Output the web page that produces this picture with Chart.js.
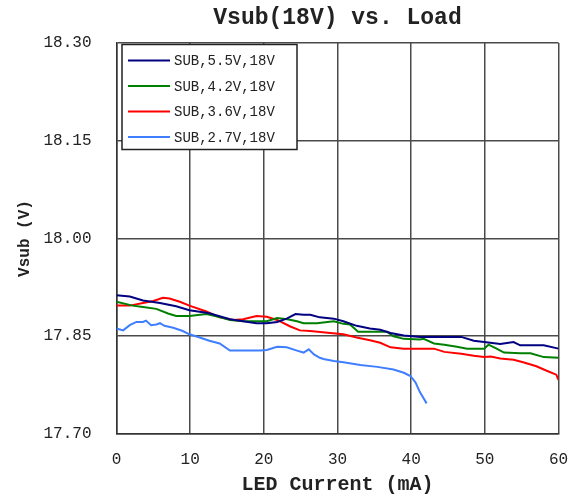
<!DOCTYPE html>
<html>
<head>
<meta charset="utf-8">
<script src="https://cdn.jsdelivr.net/npm/chart.js@4/dist/chart.umd.min.js"></script>
<style>
  html, body { margin: 0; padding: 0; background: #ffffff; }
  #wrap { width: 572px; height: 497px; }
</style>
</head>
<body>
<div id="wrap"><canvas id="vsubChart" width="572" height="497"></canvas></div>
<script>
// Series labels and colors
const seriesLabels = ['SUB,5.5V,18V', 'SUB,4.2V,18V', 'SUB,3.6V,18V', 'SUB,2.7V,18V'];
const seriesColors = ['#000080', '#008000', '#ff0000', '#3f7fff'];

// Tick values
const xTicks = [0, 10, 20, 30, 40, 50, 60];
const yTicks = [17.70, 17.85, 18.00, 18.15, 18.30];

// LED current (mA) and Vsub (V)
const current55 = [0, 1.8, 3.6, 5.9, 8.1, 9.9, 12.2, 12.7, 15.4, 17.2, 19.0, 20.4, 21.8, 23.1, 24.3, 25.4, 26.3, 27.6, 29.5, 30.8, 32.6, 34.4, 35.8, 37.2, 39.0, 41.2, 44.5, 46.8, 48.5, 49.9, 52.1, 53.9, 54.8, 56.2, 58.0, 60];
const vsub55 = [17.913, 17.911, 17.905, 17.901, 17.896, 17.890, 17.886, 17.885, 17.876, 17.873, 17.870, 17.870, 17.872, 17.877, 17.884, 17.883, 17.883, 17.879, 17.877, 17.873, 17.866, 17.862, 17.860, 17.855, 17.851, 17.849, 17.849, 17.849, 17.843, 17.841, 17.838, 17.841, 17.836, 17.836, 17.836, 17.831];

const current42 = [0, 2.2, 3.6, 5.4, 7.0, 8.1, 9.9, 12.2, 14.1, 15.4, 17.2, 19.0, 20.4, 21.8, 23.2, 24.5, 25.4, 27.2, 29.5, 30.8, 31.7, 32.8, 34.4, 36.7, 37.6, 39.0, 41.2, 41.7, 43.1, 44.5, 46.2, 47.6, 49.9, 50.5, 51.6, 52.6, 54.8, 56.2, 58.0, 60];
const vsub42 = [17.903, 17.897, 17.895, 17.892, 17.885, 17.881, 17.881, 17.884, 17.879, 17.875, 17.873, 17.873, 17.873, 17.878, 17.876, 17.873, 17.870, 17.870, 17.873, 17.869, 17.868, 17.857, 17.857, 17.857, 17.850, 17.846, 17.845, 17.846, 17.839, 17.837, 17.834, 17.831, 17.831, 17.837, 17.831, 17.825, 17.824, 17.824, 17.818, 17.817];

const current36 = [0, 1.8, 3.6, 5.0, 6.3, 7.2, 8.6, 9.9, 12.2, 14.0, 15.9, 17.2, 19.0, 20.4, 21.8, 23.6, 24.9, 26.3, 29.0, 30.8, 32.6, 34.4, 35.8, 37.2, 39.0, 43.1, 44.5, 46.8, 48.5, 49.9, 50.8, 52.1, 53.9, 55.2, 57.0, 58.4, 59.7, 60];
const vsub36 = [17.897, 17.897, 17.901, 17.904, 17.909, 17.908, 17.903, 17.897, 17.888, 17.879, 17.875, 17.876, 17.881, 17.880, 17.875, 17.865, 17.859, 17.858, 17.855, 17.853, 17.848, 17.844, 17.840, 17.833, 17.831, 17.831, 17.826, 17.823, 17.820, 17.818, 17.819, 17.816, 17.814, 17.810, 17.804, 17.797, 17.791, 17.783];

const current27 = [0, 0.9, 1.8, 2.7, 3.6, 4.0, 4.7, 5.4, 5.9, 6.5, 7.7, 9.0, 9.9, 11.3, 12.6, 14.0, 15.4, 17.2, 19.5, 20.4, 21.8, 23.1, 24.5, 25.4, 26.1, 26.8, 27.6, 28.1, 29.5, 30.8, 33.1, 35.4, 37.6, 39.0, 39.9, 40.6, 41.2, 42.1];
const vsub27 = [17.862, 17.859, 17.867, 17.872, 17.872, 17.874, 17.867, 17.868, 17.870, 17.866, 17.863, 17.858, 17.853, 17.848, 17.843, 17.839, 17.828, 17.828, 17.828, 17.829, 17.834, 17.833, 17.828, 17.825, 17.830, 17.822, 17.817, 17.815, 17.812, 17.810, 17.806, 17.803, 17.799, 17.794, 17.789, 17.779, 17.764, 17.747];

const currents = [current55, current42, current36, current27];
const vsubs = [vsub55, vsub42, vsub36, vsub27];

function toPoints(xs, ys) {
  return xs.map((x, i) => ({ x: x, y: ys[i] }));
}

const datasets = seriesLabels.map((label, i) => ({
  label: label,
  data: toPoints(currents[i], vsubs[i]),
  borderColor: seriesColors[i],
  backgroundColor: seriesColors[i],
  borderWidth: 2,
  pointRadius: 0,
  tension: 0,
  fill: false
}));

// Legend drawn inside the plot area, boxed, like the original
const boxLegend = {
  id: 'boxLegend',
  afterDatasetsDraw(chart) {
    const { ctx, chartArea } = chart;
    const left = chartArea.left + 5.5;
    const top = chartArea.top + 1.5;
    const w = 175;
    const h = 105;
    ctx.save();
    ctx.fillStyle = '#ffffff';
    ctx.fillRect(left, top, w, h);
    ctx.strokeStyle = '#222222';
    ctx.lineWidth = 1.5;
    ctx.strokeRect(left, top, w, h);
    ctx.font = '14px "Liberation Mono"';
    ctx.textBaseline = 'middle';
    ctx.textAlign = 'left';
    seriesLabels.forEach((label, i) => {
      const y = top + 16 + i * 25.5;
      ctx.strokeStyle = seriesColors[i];
      ctx.lineWidth = 2;
      ctx.beginPath();
      ctx.moveTo(left + 6, y);
      ctx.lineTo(left + 48, y);
      ctx.stroke();
      ctx.fillStyle = '#222222';
      ctx.fillText(label, left + 52, y + 1);
    });
    ctx.restore();
  }
};

const ctx = document.getElementById('vsubChart').getContext('2d');

const vsubChart = new Chart(ctx, {
  type: 'line',
  data: { datasets: datasets },
  plugins: [boxLegend],
  options: {
    responsive: false,
    animation: false,
    layout: { padding: { left: 0, right: 13.5, top: 0, bottom: 0 } },
    plugins: {
      legend: { display: false },
      tooltip: { enabled: false },
      title: {
        display: true,
        fullSize: false,
        text: 'Vsub(18V) vs. Load',
        color: '#222222',
        font: { family: '"Liberation Mono"', size: 23, weight: 'bold' },
        padding: { top: 4, bottom: 11.4 }
      }
    },
    scales: {
      x: {
        type: 'linear',
        min: 0,
        max: 60,
        afterFit(scale) {
          scale.height = 63;
          scale.paddingLeft = 0;
          scale.paddingRight = 0;
        },
        afterBuildTicks(scale) { scale.ticks = xTicks.map(v => ({ value: v })); },
        grid: { color: '#4a4a4a', lineWidth: 1.5, drawTicks: false },
        border: { color: '#333333', width: 1.5 },
        ticks: {
          color: '#222222',
          padding: 16,
          maxRotation: 0,
          font: { family: '"Liberation Mono"', size: 16 }
        },
        title: {
          display: true,
          text: 'LED Current (mA)',
          color: '#222222',
          font: { family: '"Liberation Mono"', size: 20, weight: 'bold' },
          padding: { top: 0, bottom: 0 }
        }
      },
      y: {
        min: 17.7,
        max: 18.3,
        afterFit(scale) {
          scale.width = 116.5;
          scale.paddingTop = 0;
          scale.paddingBottom = 0;
        },
        afterBuildTicks(scale) { scale.ticks = yTicks.map(v => ({ value: v })); },
        grid: { color: '#4a4a4a', lineWidth: 1.5, drawTicks: false },
        border: { color: '#333333', width: 1.5 },
        ticks: {
          color: '#222222',
          padding: 25,
          font: { family: '"Liberation Mono"', size: 16 },
          callback: (v) => Number(v).toFixed(2)
        },
        title: {
          display: true,
          text: 'Vsub (V)',
          color: '#222222',
          font: { family: '"Liberation Mono"', size: 16, weight: 'bold' },
          padding: { top: 15, bottom: 0 }
        }
      }
    }
  }
});
</script>
</body>
</html>
